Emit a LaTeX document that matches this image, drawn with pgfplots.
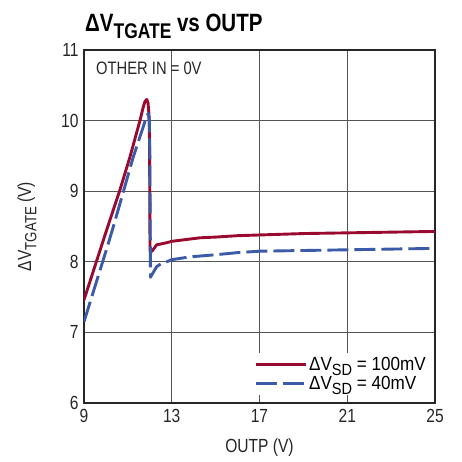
\documentclass[border=0pt]{standalone}
\usepackage{pgfplots}
\pgfplotsset{compat=1.18}
\usepackage{fontspec}
\setmainfont{Liberation Sans}[FakeStretch=0.82]
\newfontfamily\legfont{Liberation Sans}[FakeStretch=0.9]
\definecolor{ltred}{HTML}{9A0A30}
\definecolor{ltblue}{HTML}{3B5AA8}
\definecolor{gridgray}{HTML}{555555}
\newcommand{\sub}[1]{\raisebox{-0.28em}{\scalebox{0.85}{#1}}}
\begin{document}
\begin{tikzpicture}
\path[use as bounding box] (-84pt,-59pt) rectangle (377pt,403pt);
\begin{axis}[
    at={(0,0)}, anchor=south west,
    scale only axis,
    width=351pt, height=353pt,
    xmin=9, xmax=25, ymin=6, ymax=11,
    xtick={9,13,17,21,25},
    ytick={6,7,8,9,10,11},
    tick style={draw=none},
    grid=major,
    grid style={draw=gridgray, line width=1.2pt},
    axis line style={draw=black!85, line width=1.6pt},
    /pgf/number format/assume math mode=true,
    tick label style={font=\fontsize{19}{22}\selectfont, text=black!85},
    xticklabel style={yshift=-3pt},
    yticklabel style={xshift=-2pt},
    label style={font=\fontsize{19}{22}\selectfont, text=black!85},
    xlabel={OUTP (V)},
    ylabel={ΔV\sub{TGATE} (V)},
    xlabel style={at={(axis description cs:0.5,0)}, anchor=base, yshift=-49pt},
    ylabel style={at={(axis description cs:0,0.5)}, anchor=center, yshift=57pt},
    legend style={at={(1,0)}, anchor=south east, xshift=-5pt, yshift=8pt,
        draw=none, fill=white, font=\legfont\fontsize{19}{19}\selectfont,
        row sep=0pt, inner sep=2pt},
    legend cell align=left,
    legend image code/.code={\draw[#1] (0pt,0pt) -- (50pt,0pt);},
]
\addplot[ltred, line width=2.9pt, line join=round] coordinates {
(9,7.46) (9.5,7.94) (10,8.42) (10.64,9.02) (11.1,9.49) (11.55,10.0)
(11.7,10.19) (11.78,10.27) (11.86,10.30) (11.92,10.25) (11.97,10.05)
(11.99,9.6) (12.0,8.8) (12.01,8.15) (12.1,8.15) (12.31,8.24) (12.77,8.27)
(13,8.29) (14.29,8.34) (15,8.35) (16,8.37) (17,8.38) (19,8.40) (21,8.41)
(23,8.42) (25,8.43)
};
\addlegendentry{ΔV\sub{SD} = 100mV}
\addplot[ltblue, line width=2.9pt, dash pattern=on 21pt off 6pt, line join=round] coordinates {
(9,7.15) (9.5,7.65) (10,8.15) (10.34,8.5) (10.8,9.0) (11.25,9.49)
(11.7,9.91) (11.85,10.06) (11.93,10.10) (11.98,10.0) (12.0,9.5)
(12.02,8.5) (12.03,7.78) (12.1,7.82) (12.31,7.93) (12.5,7.97) (12.77,8.0)
(13,8.03) (13.83,8.07) (15,8.1) (16,8.13) (17,8.15) (19,8.16) (21,8.17) (23,8.18) (25,8.19)
};
\addlegendentry{ΔV\sub{SD} = 40mV}
\end{axis}
\node[anchor=base west, inner sep=0pt, font=\fontsize{25}{25}\selectfont\bfseries] at (1pt,371pt) {ΔV\sub{TGATE} vs OUTP};
\node[anchor=base west, inner sep=0pt, font=\fontsize{18}{18}\selectfont, text=black!85] at (12pt,328pt) {OTHER IN = 0V};
\end{tikzpicture}
\end{document}
